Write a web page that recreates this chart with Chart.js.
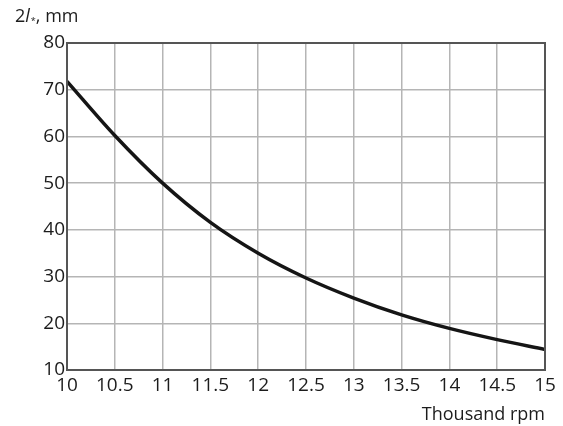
<!DOCTYPE html>
<html>
<head>
<meta charset="utf-8">
<script src="https://cdn.jsdelivr.net/npm/chart.js@4/dist/chart.umd.min.js"></script>
<style>
  html, body { margin: 0; padding: 0; background: #fff; }
  #wrap { position: relative; width: 563px; height: 426px; }
</style>
</head>
<body>
<div id="wrap"><canvas id="chart"></canvas></div>
<script>
const speeds = [10, 10.5, 11, 11.5, 12, 12.5, 13, 13.5, 14, 14.5, 15];
const lengths = [71.8, 60.2, 50, 41.6, 35, 29.7, 25.4, 21.8, 18.9, 16.5, 14.4];
const yTicks = [10, 20, 30, 40, 50, 60, 70, 80];
const xTitle = "Thousand rpm";

const FONT = "'Open Sans', 'Noto Sans', sans-serif";

// frame around the plot + the y-axis title with italic l and subscript
const frameAndTitle = {
  id: "frameAndTitle",
  afterDraw(chart) {
    const { ctx, chartArea: a } = chart;
    ctx.save();
    ctx.strokeStyle = "#555";
    ctx.lineWidth = 2;
    ctx.strokeRect(a.left, a.top, a.right - a.left, a.bottom - a.top);

    ctx.fillStyle = "#1c1c1c";
    ctx.textBaseline = "alphabetic";
    let x = 15, y = 22;
    ctx.font = "18px " + FONT;
    ctx.fillText("2", x, y);
    x += ctx.measureText("2").width;
    ctx.font = "italic 18px " + FONT;
    ctx.fillText("l", x, y);
    x += ctx.measureText("l").width + 1;
    ctx.font = "9px " + FONT;
    ctx.fillText("*", x, y + 2);
    x += ctx.measureText("*").width;
    ctx.font = "18px " + FONT;
    ctx.fillText(", mm", x, y);
    ctx.restore();
  }
};

new Chart(document.getElementById("chart"), {
  type: "line",
  data: {
    datasets: [{
      data: speeds.map((s, i) => ({ x: s, y: lengths[i] })),
      borderColor: "#151515",
      borderWidth: 3.5,
      pointRadius: 0,
      cubicInterpolationMode: "monotone",
      fill: false
    }]
  },
  options: {
    responsive: true,
    maintainAspectRatio: false,
    animation: false,
    layout: { padding: { top: 43, right: 18, left: 0, bottom: 0 } },
    plugins: { legend: { display: false }, tooltip: { enabled: false } },
    scales: {
      x: {
        type: "linear",
        min: 10,
        max: 15,
        ticks: {
          stepSize: 0.5,
          color: "#1c1c1c",
          font: { family: FONT, size: 19 },
          padding: 4,
          maxRotation: 0,
          callback: v => String(v)
        },
        grid: { color: "#b5b5b5", lineWidth: 1.5, drawTicks: false },
        border: { display: false },
        title: {
          display: true,
          text: xTitle,
          align: "end",
          color: "#1c1c1c",
          font: { family: FONT, size: 18 },
          padding: { top: 0, bottom: 0 }
        },
        afterFit: s => { s.height = 56; }
      },
      y: {
        min: 10,
        max: 80,
        afterBuildTicks: s => { s.ticks = yTicks.map(v => ({ value: v })); },
        ticks: {
          color: "#1c1c1c",
          font: { family: FONT, size: 19 },
          padding: 2
        },
        grid: { color: "#b5b5b5", lineWidth: 1.5, drawTicks: false },
        border: { display: false },
        afterFit: s => { s.width = 67; }
      }
    }
  },
  plugins: [frameAndTitle]
});
</script>
</body>
</html>
